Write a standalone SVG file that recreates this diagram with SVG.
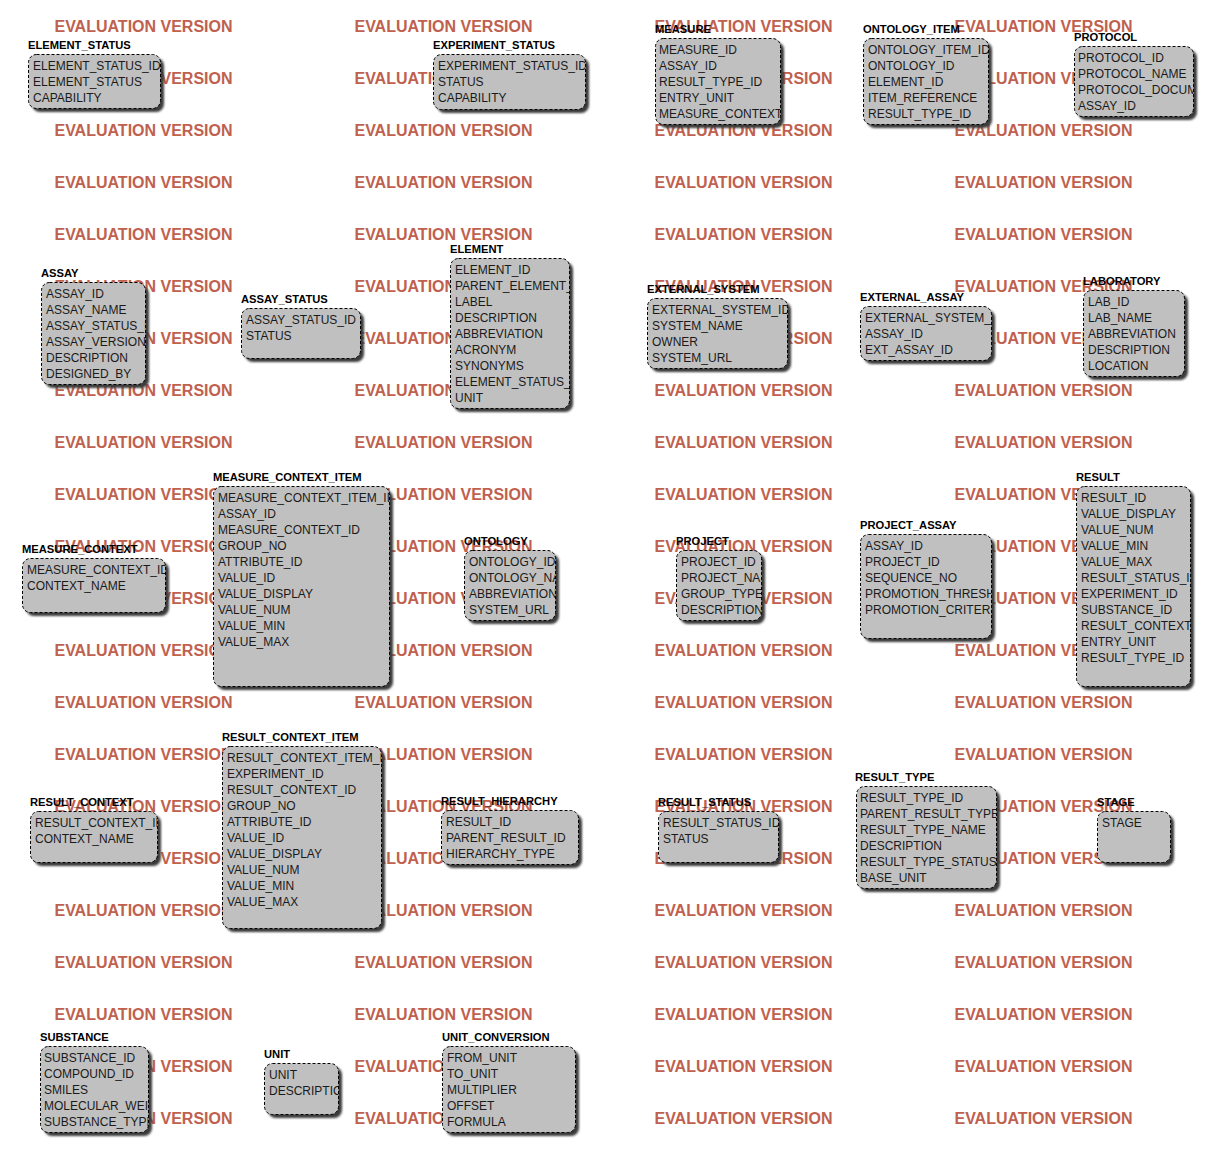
<svg xmlns="http://www.w3.org/2000/svg" width="1214" height="1155" viewBox="0 0 1214 1155">
<style>
.wm{font-family:"Liberation Sans",Arial,sans-serif;font-weight:bold;font-size:16px;fill:#c0604e;text-anchor:middle}
.t{font-family:"Liberation Sans",Arial,sans-serif;font-weight:bold;font-size:11.2px;fill:#000}
.f{font-family:"Liberation Sans",Arial,sans-serif;font-size:12px;fill:#1a1a1a}
.bx{fill:#c0c0c0;stroke:#000;stroke-width:1;stroke-dasharray:3 2}
.sh{fill:#3a3a3a;filter:url(#blur)}
</style>
<defs>
<filter id="blur" x="-10%" y="-10%" width="120%" height="120%"><feGaussianBlur stdDeviation="1.1"/></filter>
<clipPath id="c1"><rect x="28" y="54" width="132" height="54"/></clipPath>
<clipPath id="c2"><rect x="433" y="54" width="152" height="55"/></clipPath>
<clipPath id="c3"><rect x="655" y="38" width="125" height="86"/></clipPath>
<clipPath id="c4"><rect x="863" y="38" width="125" height="86"/></clipPath>
<clipPath id="c5"><rect x="1074" y="46" width="119" height="70"/></clipPath>
<clipPath id="c6"><rect x="41" y="282" width="104" height="102"/></clipPath>
<clipPath id="c7"><rect x="241" y="308" width="119" height="50"/></clipPath>
<clipPath id="c8"><rect x="450" y="258" width="119" height="150"/></clipPath>
<clipPath id="c9"><rect x="647" y="298" width="140" height="70"/></clipPath>
<clipPath id="c10"><rect x="860" y="306" width="131" height="54"/></clipPath>
<clipPath id="c11"><rect x="1083" y="290" width="101" height="86"/></clipPath>
<clipPath id="c12"><rect x="213" y="486" width="176" height="200"/></clipPath>
<clipPath id="c13"><rect x="22" y="558" width="143" height="54"/></clipPath>
<clipPath id="c14"><rect x="464" y="550" width="91" height="70"/></clipPath>
<clipPath id="c15"><rect x="676" y="550" width="85" height="70"/></clipPath>
<clipPath id="c16"><rect x="860" y="534" width="131" height="104"/></clipPath>
<clipPath id="c17"><rect x="1076" y="486" width="114" height="200"/></clipPath>
<clipPath id="c18"><rect x="222" y="746" width="159" height="182"/></clipPath>
<clipPath id="c19"><rect x="30" y="811" width="127" height="51"/></clipPath>
<clipPath id="c20"><rect x="441" y="810" width="137" height="54"/></clipPath>
<clipPath id="c21"><rect x="658" y="811" width="120" height="51"/></clipPath>
<clipPath id="c22"><rect x="856" y="786" width="140" height="102"/></clipPath>
<clipPath id="c23"><rect x="1097" y="811" width="73" height="51"/></clipPath>
<clipPath id="c24"><rect x="40" y="1046" width="108" height="86"/></clipPath>
<clipPath id="c25"><rect x="264" y="1063" width="74" height="51"/></clipPath>
<clipPath id="c26"><rect x="442" y="1046" width="133" height="86"/></clipPath>
</defs>
<rect width="1214" height="1155" fill="#fff"/>
<g id="watermark">
<text class="wm" x="143.5" y="32">EVALUATION VERSION</text><text class="wm" x="443.5" y="32">EVALUATION VERSION</text><text class="wm" x="743.5" y="32">EVALUATION VERSION</text><text class="wm" x="1043.5" y="32">EVALUATION VERSION</text>
<text class="wm" x="143.5" y="84">EVALUATION VERSION</text><text class="wm" x="443.5" y="84">EVALUATION VERSION</text><text class="wm" x="743.5" y="84">EVALUATION VERSION</text><text class="wm" x="1043.5" y="84">EVALUATION VERSION</text>
<text class="wm" x="143.5" y="136">EVALUATION VERSION</text><text class="wm" x="443.5" y="136">EVALUATION VERSION</text><text class="wm" x="743.5" y="136">EVALUATION VERSION</text><text class="wm" x="1043.5" y="136">EVALUATION VERSION</text>
<text class="wm" x="143.5" y="188">EVALUATION VERSION</text><text class="wm" x="443.5" y="188">EVALUATION VERSION</text><text class="wm" x="743.5" y="188">EVALUATION VERSION</text><text class="wm" x="1043.5" y="188">EVALUATION VERSION</text>
<text class="wm" x="143.5" y="240">EVALUATION VERSION</text><text class="wm" x="443.5" y="240">EVALUATION VERSION</text><text class="wm" x="743.5" y="240">EVALUATION VERSION</text><text class="wm" x="1043.5" y="240">EVALUATION VERSION</text>
<text class="wm" x="143.5" y="292">EVALUATION VERSION</text><text class="wm" x="443.5" y="292">EVALUATION VERSION</text><text class="wm" x="743.5" y="292">EVALUATION VERSION</text><text class="wm" x="1043.5" y="292">EVALUATION VERSION</text>
<text class="wm" x="143.5" y="344">EVALUATION VERSION</text><text class="wm" x="443.5" y="344">EVALUATION VERSION</text><text class="wm" x="743.5" y="344">EVALUATION VERSION</text><text class="wm" x="1043.5" y="344">EVALUATION VERSION</text>
<text class="wm" x="143.5" y="396">EVALUATION VERSION</text><text class="wm" x="443.5" y="396">EVALUATION VERSION</text><text class="wm" x="743.5" y="396">EVALUATION VERSION</text><text class="wm" x="1043.5" y="396">EVALUATION VERSION</text>
<text class="wm" x="143.5" y="448">EVALUATION VERSION</text><text class="wm" x="443.5" y="448">EVALUATION VERSION</text><text class="wm" x="743.5" y="448">EVALUATION VERSION</text><text class="wm" x="1043.5" y="448">EVALUATION VERSION</text>
<text class="wm" x="143.5" y="500">EVALUATION VERSION</text><text class="wm" x="443.5" y="500">EVALUATION VERSION</text><text class="wm" x="743.5" y="500">EVALUATION VERSION</text><text class="wm" x="1043.5" y="500">EVALUATION VERSION</text>
<text class="wm" x="143.5" y="552">EVALUATION VERSION</text><text class="wm" x="443.5" y="552">EVALUATION VERSION</text><text class="wm" x="743.5" y="552">EVALUATION VERSION</text><text class="wm" x="1043.5" y="552">EVALUATION VERSION</text>
<text class="wm" x="143.5" y="604">EVALUATION VERSION</text><text class="wm" x="443.5" y="604">EVALUATION VERSION</text><text class="wm" x="743.5" y="604">EVALUATION VERSION</text><text class="wm" x="1043.5" y="604">EVALUATION VERSION</text>
<text class="wm" x="143.5" y="656">EVALUATION VERSION</text><text class="wm" x="443.5" y="656">EVALUATION VERSION</text><text class="wm" x="743.5" y="656">EVALUATION VERSION</text><text class="wm" x="1043.5" y="656">EVALUATION VERSION</text>
<text class="wm" x="143.5" y="708">EVALUATION VERSION</text><text class="wm" x="443.5" y="708">EVALUATION VERSION</text><text class="wm" x="743.5" y="708">EVALUATION VERSION</text><text class="wm" x="1043.5" y="708">EVALUATION VERSION</text>
<text class="wm" x="143.5" y="760">EVALUATION VERSION</text><text class="wm" x="443.5" y="760">EVALUATION VERSION</text><text class="wm" x="743.5" y="760">EVALUATION VERSION</text><text class="wm" x="1043.5" y="760">EVALUATION VERSION</text>
<text class="wm" x="143.5" y="812">EVALUATION VERSION</text><text class="wm" x="443.5" y="812">EVALUATION VERSION</text><text class="wm" x="743.5" y="812">EVALUATION VERSION</text><text class="wm" x="1043.5" y="812">EVALUATION VERSION</text>
<text class="wm" x="143.5" y="864">EVALUATION VERSION</text><text class="wm" x="443.5" y="864">EVALUATION VERSION</text><text class="wm" x="743.5" y="864">EVALUATION VERSION</text><text class="wm" x="1043.5" y="864">EVALUATION VERSION</text>
<text class="wm" x="143.5" y="916">EVALUATION VERSION</text><text class="wm" x="443.5" y="916">EVALUATION VERSION</text><text class="wm" x="743.5" y="916">EVALUATION VERSION</text><text class="wm" x="1043.5" y="916">EVALUATION VERSION</text>
<text class="wm" x="143.5" y="968">EVALUATION VERSION</text><text class="wm" x="443.5" y="968">EVALUATION VERSION</text><text class="wm" x="743.5" y="968">EVALUATION VERSION</text><text class="wm" x="1043.5" y="968">EVALUATION VERSION</text>
<text class="wm" x="143.5" y="1020">EVALUATION VERSION</text><text class="wm" x="443.5" y="1020">EVALUATION VERSION</text><text class="wm" x="743.5" y="1020">EVALUATION VERSION</text><text class="wm" x="1043.5" y="1020">EVALUATION VERSION</text>
<text class="wm" x="143.5" y="1072">EVALUATION VERSION</text><text class="wm" x="443.5" y="1072">EVALUATION VERSION</text><text class="wm" x="743.5" y="1072">EVALUATION VERSION</text><text class="wm" x="1043.5" y="1072">EVALUATION VERSION</text>
<text class="wm" x="143.5" y="1124">EVALUATION VERSION</text><text class="wm" x="443.5" y="1124">EVALUATION VERSION</text><text class="wm" x="743.5" y="1124">EVALUATION VERSION</text><text class="wm" x="1043.5" y="1124">EVALUATION VERSION</text>
</g>
<g id="connectors"/>
<g id="element_status">
<rect class="sh" x="32" y="58" width="132" height="54" rx="8"/>
<rect class="bx" x="28.5" y="54.5" width="132" height="54" rx="8"/>
<text class="t" x="28" y="48.5">ELEMENT_STATUS</text>
<text class="f" clip-path="url(#c1)" x="33" y="69.5">ELEMENT_STATUS_ID<tspan x="33" dy="16">ELEMENT_STATUS</tspan><tspan x="33" dy="16">CAPABILITY</tspan></text>
</g>
<g id="experiment_status">
<rect class="sh" x="437" y="58" width="152" height="55" rx="8"/>
<rect class="bx" x="433.5" y="54.5" width="152" height="55" rx="8"/>
<text class="t" x="433" y="48.5">EXPERIMENT_STATUS</text>
<text class="f" clip-path="url(#c2)" x="438" y="69.5">EXPERIMENT_STATUS_ID<tspan x="438" dy="16">STATUS</tspan><tspan x="438" dy="16">CAPABILITY</tspan></text>
</g>
<g id="measure">
<rect class="sh" x="659" y="42" width="125" height="86" rx="8"/>
<rect class="bx" x="655.5" y="38.5" width="125" height="86" rx="8"/>
<text class="t" x="655" y="32.5">MEASURE</text>
<text class="f" clip-path="url(#c3)" x="659" y="53.5">MEASURE_ID<tspan x="659" dy="16">ASSAY_ID</tspan><tspan x="659" dy="16">RESULT_TYPE_ID</tspan><tspan x="659" dy="16">ENTRY_UNIT</tspan><tspan x="659" dy="16">MEASURE_CONTEXT_ID</tspan></text>
</g>
<g id="ontology_item">
<rect class="sh" x="867" y="42" width="125" height="86" rx="8"/>
<rect class="bx" x="863.5" y="38.5" width="125" height="86" rx="8"/>
<text class="t" x="863" y="32.5">ONTOLOGY_ITEM</text>
<text class="f" clip-path="url(#c4)" x="868" y="53.5">ONTOLOGY_ITEM_ID<tspan x="868" dy="16">ONTOLOGY_ID</tspan><tspan x="868" dy="16">ELEMENT_ID</tspan><tspan x="868" dy="16">ITEM_REFERENCE</tspan><tspan x="868" dy="16">RESULT_TYPE_ID</tspan></text>
</g>
<g id="protocol">
<rect class="sh" x="1078" y="50" width="119" height="70" rx="8"/>
<rect class="bx" x="1074.5" y="46.5" width="119" height="70" rx="8"/>
<text class="t" x="1074" y="40.5">PROTOCOL</text>
<text class="f" clip-path="url(#c5)" x="1078" y="61.5">PROTOCOL_ID<tspan x="1078" dy="16">PROTOCOL_NAME</tspan><tspan x="1078" dy="16">PROTOCOL_DOCUMENT</tspan><tspan x="1078" dy="16">ASSAY_ID</tspan></text>
</g>
<g id="assay">
<rect class="sh" x="45" y="286" width="104" height="102" rx="8"/>
<rect class="bx" x="41.5" y="282.5" width="104" height="102" rx="8"/>
<text class="t" x="41" y="276.5">ASSAY</text>
<text class="f" clip-path="url(#c6)" x="46" y="297.5">ASSAY_ID<tspan x="46" dy="16">ASSAY_NAME</tspan><tspan x="46" dy="16">ASSAY_STATUS_ID</tspan><tspan x="46" dy="16">ASSAY_VERSION</tspan><tspan x="46" dy="16">DESCRIPTION</tspan><tspan x="46" dy="16">DESIGNED_BY</tspan></text>
</g>
<g id="assay_status">
<rect class="sh" x="245" y="312" width="119" height="50" rx="8"/>
<rect class="bx" x="241.5" y="308.5" width="119" height="50" rx="8"/>
<text class="t" x="241" y="302.5">ASSAY_STATUS</text>
<text class="f" clip-path="url(#c7)" x="246" y="323.5">ASSAY_STATUS_ID<tspan x="246" dy="16">STATUS</tspan></text>
</g>
<g id="element">
<rect class="sh" x="454" y="262" width="119" height="150" rx="8"/>
<rect class="bx" x="450.5" y="258.5" width="119" height="150" rx="8"/>
<text class="t" x="450" y="252.5">ELEMENT</text>
<text class="f" clip-path="url(#c8)" x="455" y="273.5">ELEMENT_ID<tspan x="455" dy="16">PARENT_ELEMENT_ID</tspan><tspan x="455" dy="16">LABEL</tspan><tspan x="455" dy="16">DESCRIPTION</tspan><tspan x="455" dy="16">ABBREVIATION</tspan><tspan x="455" dy="16">ACRONYM</tspan><tspan x="455" dy="16">SYNONYMS</tspan><tspan x="455" dy="16">ELEMENT_STATUS_ID</tspan><tspan x="455" dy="16">UNIT</tspan></text>
</g>
<g id="external_system">
<rect class="sh" x="651" y="302" width="140" height="70" rx="8"/>
<rect class="bx" x="647.5" y="298.5" width="140" height="70" rx="8"/>
<text class="t" x="647" y="292.5">EXTERNAL_SYSTEM</text>
<text class="f" clip-path="url(#c9)" x="652" y="313.5">EXTERNAL_SYSTEM_ID<tspan x="652" dy="16">SYSTEM_NAME</tspan><tspan x="652" dy="16">OWNER</tspan><tspan x="652" dy="16">SYSTEM_URL</tspan></text>
</g>
<g id="external_assay">
<rect class="sh" x="864" y="310" width="131" height="54" rx="8"/>
<rect class="bx" x="860.5" y="306.5" width="131" height="54" rx="8"/>
<text class="t" x="860" y="300.5">EXTERNAL_ASSAY</text>
<text class="f" clip-path="url(#c10)" x="865" y="321.5">EXTERNAL_SYSTEM_ID<tspan x="865" dy="16">ASSAY_ID</tspan><tspan x="865" dy="16">EXT_ASSAY_ID</tspan></text>
</g>
<g id="laboratory">
<rect class="sh" x="1087" y="294" width="101" height="86" rx="8"/>
<rect class="bx" x="1083.5" y="290.5" width="101" height="86" rx="8"/>
<text class="t" x="1083" y="284.5">LABORATORY</text>
<text class="f" clip-path="url(#c11)" x="1088" y="305.5">LAB_ID<tspan x="1088" dy="16">LAB_NAME</tspan><tspan x="1088" dy="16">ABBREVIATION</tspan><tspan x="1088" dy="16">DESCRIPTION</tspan><tspan x="1088" dy="16">LOCATION</tspan></text>
</g>
<g id="measure_context_item">
<rect class="sh" x="217" y="490" width="176" height="200" rx="8"/>
<rect class="bx" x="213.5" y="486.5" width="176" height="200" rx="8"/>
<text class="t" x="213" y="480.5">MEASURE_CONTEXT_ITEM</text>
<text class="f" clip-path="url(#c12)" x="218" y="501.5">MEASURE_CONTEXT_ITEM_ID<tspan x="218" dy="16">ASSAY_ID</tspan><tspan x="218" dy="16">MEASURE_CONTEXT_ID</tspan><tspan x="218" dy="16">GROUP_NO</tspan><tspan x="218" dy="16">ATTRIBUTE_ID</tspan><tspan x="218" dy="16">VALUE_ID</tspan><tspan x="218" dy="16">VALUE_DISPLAY</tspan><tspan x="218" dy="16">VALUE_NUM</tspan><tspan x="218" dy="16">VALUE_MIN</tspan><tspan x="218" dy="16">VALUE_MAX</tspan></text>
</g>
<g id="measure_context">
<rect class="sh" x="26" y="562" width="143" height="54" rx="8"/>
<rect class="bx" x="22.5" y="558.5" width="143" height="54" rx="8"/>
<text class="t" x="22" y="553">MEASURE_CONTEXT</text>
<text class="f" clip-path="url(#c13)" x="27" y="574">MEASURE_CONTEXT_ID<tspan x="27" dy="16">CONTEXT_NAME</tspan></text>
</g>
<g id="ontology">
<rect class="sh" x="468" y="554" width="91" height="70" rx="8"/>
<rect class="bx" x="464.5" y="550.5" width="91" height="70" rx="8"/>
<text class="t" x="464" y="544.5">ONTOLOGY</text>
<text class="f" clip-path="url(#c14)" x="469" y="565.5">ONTOLOGY_ID<tspan x="469" dy="16">ONTOLOGY_NAME</tspan><tspan x="469" dy="16">ABBREVIATION</tspan><tspan x="469" dy="16">SYSTEM_URL</tspan></text>
</g>
<g id="project">
<rect class="sh" x="680" y="554" width="85" height="70" rx="8"/>
<rect class="bx" x="676.5" y="550.5" width="85" height="70" rx="8"/>
<text class="t" x="676" y="544.5">PROJECT</text>
<text class="f" clip-path="url(#c15)" x="681" y="565.5">PROJECT_ID<tspan x="681" dy="16">PROJECT_NAME</tspan><tspan x="681" dy="16">GROUP_TYPE</tspan><tspan x="681" dy="16">DESCRIPTION</tspan></text>
</g>
<g id="project_assay">
<rect class="sh" x="864" y="538" width="131" height="104" rx="8"/>
<rect class="bx" x="860.5" y="534.5" width="131" height="104" rx="8"/>
<text class="t" x="860" y="528.5">PROJECT_ASSAY</text>
<text class="f" clip-path="url(#c16)" x="865" y="549.5">ASSAY_ID<tspan x="865" dy="16">PROJECT_ID</tspan><tspan x="865" dy="16">SEQUENCE_NO</tspan><tspan x="865" dy="16">PROMOTION_THRESHOLD</tspan><tspan x="865" dy="16">PROMOTION_CRITERIA</tspan></text>
</g>
<g id="result">
<rect class="sh" x="1080" y="490" width="114" height="200" rx="8"/>
<rect class="bx" x="1076.5" y="486.5" width="114" height="200" rx="8"/>
<text class="t" x="1076" y="480.5">RESULT</text>
<text class="f" clip-path="url(#c17)" x="1081" y="501.5">RESULT_ID<tspan x="1081" dy="16">VALUE_DISPLAY</tspan><tspan x="1081" dy="16">VALUE_NUM</tspan><tspan x="1081" dy="16">VALUE_MIN</tspan><tspan x="1081" dy="16">VALUE_MAX</tspan><tspan x="1081" dy="16">RESULT_STATUS_ID</tspan><tspan x="1081" dy="16">EXPERIMENT_ID</tspan><tspan x="1081" dy="16">SUBSTANCE_ID</tspan><tspan x="1081" dy="16">RESULT_CONTEXT_ID</tspan><tspan x="1081" dy="16">ENTRY_UNIT</tspan><tspan x="1081" dy="16">RESULT_TYPE_ID</tspan></text>
</g>
<g id="result_context_item">
<rect class="sh" x="226" y="750" width="159" height="182" rx="8"/>
<rect class="bx" x="222.5" y="746.5" width="159" height="182" rx="8"/>
<text class="t" x="222" y="740.5">RESULT_CONTEXT_ITEM</text>
<text class="f" clip-path="url(#c18)" x="227" y="761.5">RESULT_CONTEXT_ITEM_ID<tspan x="227" dy="16">EXPERIMENT_ID</tspan><tspan x="227" dy="16">RESULT_CONTEXT_ID</tspan><tspan x="227" dy="16">GROUP_NO</tspan><tspan x="227" dy="16">ATTRIBUTE_ID</tspan><tspan x="227" dy="16">VALUE_ID</tspan><tspan x="227" dy="16">VALUE_DISPLAY</tspan><tspan x="227" dy="16">VALUE_NUM</tspan><tspan x="227" dy="16">VALUE_MIN</tspan><tspan x="227" dy="16">VALUE_MAX</tspan></text>
</g>
<g id="result_context">
<rect class="sh" x="34" y="815" width="127" height="51" rx="8"/>
<rect class="bx" x="30.5" y="811.5" width="127" height="51" rx="8"/>
<text class="t" x="30" y="805.5">RESULT_CONTEXT</text>
<text class="f" clip-path="url(#c19)" x="35" y="826.5">RESULT_CONTEXT_ID<tspan x="35" dy="16">CONTEXT_NAME</tspan></text>
</g>
<g id="result_hierarchy">
<rect class="sh" x="445" y="814" width="137" height="54" rx="8"/>
<rect class="bx" x="441.5" y="810.5" width="137" height="54" rx="8"/>
<text class="t" x="441" y="804.5">RESULT_HIERARCHY</text>
<text class="f" clip-path="url(#c20)" x="446" y="825.5">RESULT_ID<tspan x="446" dy="16">PARENT_RESULT_ID</tspan><tspan x="446" dy="16">HIERARCHY_TYPE</tspan></text>
</g>
<g id="result_status">
<rect class="sh" x="662" y="815" width="120" height="51" rx="8"/>
<rect class="bx" x="658.5" y="811.5" width="120" height="51" rx="8"/>
<text class="t" x="658" y="805.5">RESULT_STATUS</text>
<text class="f" clip-path="url(#c21)" x="663" y="826.5">RESULT_STATUS_ID<tspan x="663" dy="16">STATUS</tspan></text>
</g>
<g id="result_type">
<rect class="sh" x="860" y="790" width="140" height="102" rx="8"/>
<rect class="bx" x="856.5" y="786.5" width="140" height="102" rx="8"/>
<text class="t" x="855" y="780.5">RESULT_TYPE</text>
<text class="f" clip-path="url(#c22)" x="860" y="801.5">RESULT_TYPE_ID<tspan x="860" dy="16">PARENT_RESULT_TYPE_ID</tspan><tspan x="860" dy="16">RESULT_TYPE_NAME</tspan><tspan x="860" dy="16">DESCRIPTION</tspan><tspan x="860" dy="16">RESULT_TYPE_STATUS</tspan><tspan x="860" dy="16">BASE_UNIT</tspan></text>
</g>
<g id="stage">
<rect class="sh" x="1101" y="815" width="73" height="51" rx="8"/>
<rect class="bx" x="1097.5" y="811.5" width="73" height="51" rx="8"/>
<text class="t" x="1097" y="805.5">STAGE</text>
<text class="f" clip-path="url(#c23)" x="1102" y="826.5">STAGE</text>
</g>
<g id="substance">
<rect class="sh" x="44" y="1050" width="108" height="86" rx="8"/>
<rect class="bx" x="40.5" y="1046.5" width="108" height="86" rx="8"/>
<text class="t" x="40" y="1040.5">SUBSTANCE</text>
<text class="f" clip-path="url(#c24)" x="44" y="1061.5">SUBSTANCE_ID<tspan x="44" dy="16">COMPOUND_ID</tspan><tspan x="44" dy="16">SMILES</tspan><tspan x="44" dy="16">MOLECULAR_WEIGHT</tspan><tspan x="44" dy="16">SUBSTANCE_TYPE</tspan></text>
</g>
<g id="unit">
<rect class="sh" x="268" y="1067" width="74" height="51" rx="8"/>
<rect class="bx" x="264.5" y="1063.5" width="74" height="51" rx="8"/>
<text class="t" x="264" y="1057.5">UNIT</text>
<text class="f" clip-path="url(#c25)" x="269" y="1078.5">UNIT<tspan x="269" dy="16">DESCRIPTION</tspan></text>
</g>
<g id="unit_conversion">
<rect class="sh" x="446" y="1050" width="133" height="86" rx="8"/>
<rect class="bx" x="442.5" y="1046.5" width="133" height="86" rx="8"/>
<text class="t" x="442" y="1040.5">UNIT_CONVERSION</text>
<text class="f" clip-path="url(#c26)" x="447" y="1061.5">FROM_UNIT<tspan x="447" dy="16">TO_UNIT</tspan><tspan x="447" dy="16">MULTIPLIER</tspan><tspan x="447" dy="16">OFFSET</tspan><tspan x="447" dy="16">FORMULA</tspan></text>
</g>
</svg>
